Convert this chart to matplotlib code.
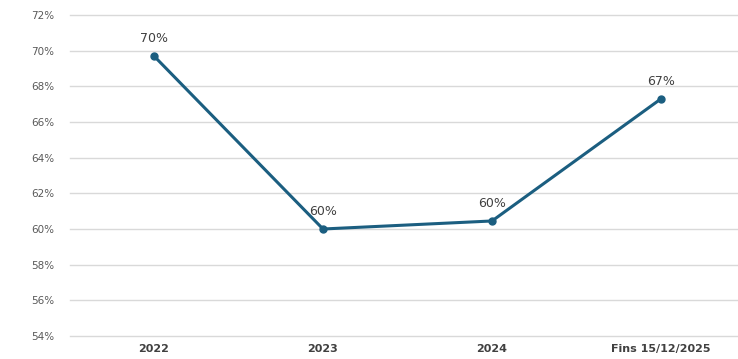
import matplotlib.pyplot as plt
from matplotlib.ticker import FuncFormatter

categories = ['2022', '2023', '2024', 'Fins 15/12/2025']
values = [69.7, 60.0, 60.45, 67.3]
labels = ['70%', '60%', '60%', '67%']
y_ticks = [54, 56, 58, 60, 62, 64, 66, 68, 70, 72]

line_color = '#1b5e80'

fig = plt.figure(figsize=(7.38, 3.59), dpi=100)
ax = fig.add_axes([69.5 / 738, 1 - 336 / 359, 676 / 738, 321 / 359])

x = range(len(categories))
ax.plot(x, values, color=line_color, linewidth=2.2, marker='o', markersize=5)

for i, (v, lab) in enumerate(zip(values, labels)):
    ax.annotate(lab, (i, v), textcoords='offset points', xytext=(0, 12.5),
                ha='center', va='center', fontsize=9, color='#404040')

ax.set_xlim(-0.5, len(categories) - 0.5)
ax.set_ylim(54, 72)
ax.set_yticks(y_ticks)
ax.yaxis.set_major_formatter(FuncFormatter(lambda v, p: '%d%%' % v))
ax.set_xticks(list(x))
ax.set_xticklabels(categories, fontsize=8, fontweight='bold', color='#404040',
                   family=['Liberation Sans Narrow', 'DejaVu Sans'])
ax.tick_params(axis='y', labelsize=7.5, labelcolor='#595959', length=0, pad=11)
ax.tick_params(axis='x', length=0, pad=6)

ax.grid(axis='y', color='#d9d9d9', linewidth=1)
for gl in ax.get_ygridlines():
    gl.set_clip_on(False)
ax.set_axisbelow(True)
for s in ax.spines.values():
    s.set_visible(False)

plt.savefig('out.png', dpi=100, facecolor='white')
